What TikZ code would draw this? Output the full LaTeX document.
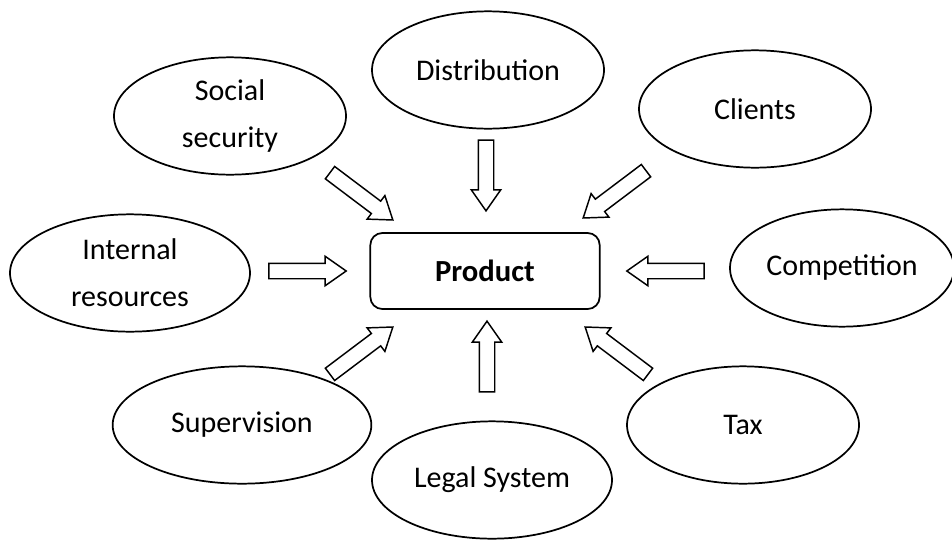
\documentclass[tikz,border=0pt]{standalone}
\usepackage{fontspec}
\setmainfont{Carlito}
\usetikzlibrary{shapes.geometric,shapes.arrows}

\tikzset{every picture/.style={line width=1.3pt}}
\tikzset{
	bubble/.style={draw, ellipse, inner sep=0.75pt, minimum width=174pt, minimum height=88pt, align=center, font=\fontsize{22.5}{35}\selectfont},
	fatarrow/.style={draw, single arrow, inner sep=5.25pt, minimum width=21pt, single arrow head extend=5.25pt, single arrow tip angle=70, line width=1.1pt}
}

\begin{document}
\begin{tikzpicture}[x=0.75pt,y=0.75pt,yscale=-1,xscale=1]
	\useasboundingbox (0,0) rectangle (952,550);

	% Centre box
	\node [draw, rounded corners=9pt, minimum width=172pt, minimum height=57pt, font=\bfseries\fontsize{23}{27}\selectfont] (product) at (485,271) {Product};

	% Ellipses
	\node [bubble] (distribution) at (488,70) {Distribution};
	\node [bubble] (social) at (230,116) {Social\\security};
	\node [bubble] (clients) at (755,109) {Clients};
	\node [bubble, minimum width=180pt] (internal) at (130,273) {Internal\\resources};
	\node [bubble, minimum width=168pt] (competition) at (842,268) {Competition};
	\node [bubble, minimum width=194pt] (supervision) at (242,425) {Supervision};
	\node [bubble, minimum width=180pt] (legal) at (492,480) {Legal System};
	\node [bubble] (tax) at (743,425) {Tax};

	% Arrows
	\node [fatarrow, minimum height=59pt, rotate=-37] (arrsocial) at (357,193) {};
	\node [fatarrow, minimum height=53pt, rotate=-90] (arrdistribution) at (486,170) {};
	\node [fatarrow, minimum height=59pt, rotate=-143] (arrclients) at (619,191) {};
	\node [fatarrow, minimum height=58pt] (arrinternal) at (302,271) {};
	\node [fatarrow, minimum height=58pt, rotate=180] (arrcompetition) at (671,271) {};
	\node [fatarrow, minimum height=59pt, rotate=37] (arrsupervision) at (357,354) {};
	\node [fatarrow, minimum height=53pt, rotate=90] (arrlegal) at (487,362) {};
	\node [fatarrow, minimum height=59pt, rotate=143] (arrtax) at (621,354) {};

\end{tikzpicture}
\end{document}
